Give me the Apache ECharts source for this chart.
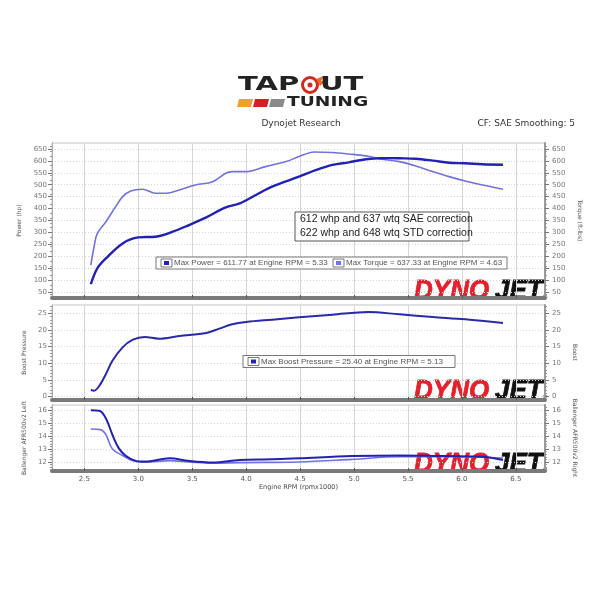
<!DOCTYPE html>
<html><head><meta charset="utf-8">
<script src="https://cdn.jsdelivr.net/npm/echarts@6/dist/echarts.min.js"></script>
<style>html,body{margin:0;padding:0;background:#fff}#c{width:600px;height:605px}</style>
</head><body><div id="c"></div>
<script>
// ---- data ----
const rpmTicks = [2.5, 3.0, 3.5, 4.0, 4.5, 5.0, 5.5, 6.0, 6.5];
const powerTicks = [50, 100, 150, 200, 250, 300, 350, 400, 450, 500, 550, 600, 650];
const boostTicks = [0, 5, 10, 15, 20, 25];
const afrTicks = [12, 13, 14, 15, 16];

const powerRpm = [2.56,2.62,2.70,2.855,3.0,3.16,3.32,3.47,3.63,3.81,3.94,4.09,4.24,4.49,4.65,4.80,4.95,5.11,5.23,5.33,5.42,5.57,5.73,5.88,6.03,6.19,6.38];
const powerHp  = [83,149,191,254,279,282,303,331,363,405,422,457,492,534,562,583,594,607,611,611.77,611,609,601,592,590,586,584];

const torqueRpm = [2.56,2.59,2.62,2.70,2.79,2.855,2.93,3.04,3.16,3.26,3.38,3.53,3.69,3.81,3.87,4.0,4.18,4.37,4.49,4.63,4.80,4.95,5.11,5.26,5.42,5.57,5.73,5.88,6.03,6.19,6.38];
const torqueFt  = [163,240,296,345,408,450,474,481,464,464,478,499,513,548,555,555,576,597,618,637.33,635,629,621,607,597,579,555,534,516,499,481];

const boostRpm = [2.56,2.59,2.64,2.70,2.76,2.855,2.95,3.06,3.19,3.38,3.63,3.75,3.87,4.0,4.24,4.49,4.80,5.13,5.42,5.73,6.03,6.38];
const boostPsi = [2.0,1.8,3.3,6.8,10.8,14.8,17.1,17.9,17.4,18.2,19.1,20.4,21.7,22.4,23.1,23.8,24.6,25.4,24.7,23.9,23.2,22.1];

const afrLeftRpm = [2.56,2.64,2.70,2.76,2.82,2.88,2.97,3.06,3.29,3.47,3.69,3.94,4.24,4.49,4.98,5.42,5.88,6.19,6.38];
const afrLeft    = [16.0,15.95,15.36,14.1,13.05,12.5,12.1,12.03,12.28,12.07,11.95,12.15,12.2,12.28,12.45,12.5,12.45,12.4,12.15];
const afrRightRpm = [2.56,2.65,2.70,2.76,2.855,2.95,3.06,3.29,3.47,3.69,3.94,4.49,4.98,5.42,5.88,6.38];
const afrRight    = [14.54,14.5,14.1,13.0,12.5,12.1,11.98,12.1,12.0,11.9,11.95,12.0,12.2,12.4,12.4,12.3];

const maxPower = {value: 611.77, rpm: 5.33};
const maxTorque = {value: 637.33, rpm: 4.63};
const maxBoost = {value: 25.40, rpm: 5.13};
const noteLines = ['612 whp and 637 wtq SAE correction', '622 whp and 648 wtq STD correction'];

// ---- chart ----
const FONT = 'DejaVu Sans';
const DARK = '#2222b0';
const LIGHT = '#7272dc';
const zip = (a, b) => a.map((v, i) => [v, b[i]]);

const gridDefs = [
  {top: 143, height: 155},
  {top: 305, height: 95},
  {top: 405, height: 66}
];
const grids = gridDefs.map(g => ({left: 52, width: 493, top: g.top, height: g.height, show: true, borderColor: '#c4c4c4', borderWidth: 1, outerBoundsMode: 'none'}));

const xAxes = [0, 1, 2].map(i => ({
  type: 'value', gridIndex: i, min: 2.2, max: 6.77, position: 'bottom',
  axisLine: {show: true, onZero: false, lineStyle: {color: '#7a7a7a', width: 4}},
  axisTick: {show: true, customValues: rpmTicks, length: 3, inside: true, lineStyle: {color: '#555'}},
  axisLabel: {show: i === 2, customValues: rpmTicks, formatter: v => v.toFixed(1), fontSize: 7, color: '#555', fontFamily: FONT, margin: 5},
  splitLine: {show: true, lineStyle: {color: '#d6d6d6', width: 1}},
  name: i === 2 ? 'Engine RPM (rpmx1000)' : '', nameLocation: 'middle', nameGap: 13,
  nameTextStyle: {fontSize: 6.5, color: '#444', fontFamily: FONT}
}));

function yPair(gi, min, max, ticks, leftName, rightName) {
  const base = {
    type: 'value', gridIndex: gi, min: min, max: max,
    axisTick: {show: true, customValues: ticks, length: 4, lineStyle: {color: '#777'}},
    minorTick: {show: true, splitNumber: 5, length: 2, lineStyle: {color: '#999'}},
    axisLabel: {customValues: ticks, fontSize: 7, color: '#777', fontFamily: FONT, margin: 5},
    nameLocation: 'middle', nameRotate: 90,
    nameTextStyle: {fontSize: 6, color: '#555', fontFamily: FONT}
  };
  return [
    Object.assign({}, base, {position: 'left', name: leftName, nameGap: 19,
      axisLine: {show: true, lineStyle: {color: '#aaa', width: 1}},
      splitLine: {show: true, lineStyle: {color: '#d6d6d6', type: [1, 2]}}}),
    Object.assign({}, base, {position: 'right', name: rightName, nameGap: 26, nameRotate: -90,
      axisLine: {show: true, lineStyle: {color: '#999', width: 2}},
      axisLabel: Object.assign({}, base.axisLabel, {margin: 7}),
      splitLine: {show: false}})
  ];
}
const yAxes = [].concat(
  yPair(0, 25, 675, powerTicks, 'Power (hp)', 'Torque (ft-lbs)'),
  yPair(1, -1, 27.5, boostTicks, 'Boost Pressure', 'Boost'),
  yPair(2, 11.3, 16.4, afrTicks, 'Ballenger AFR500v2 Left', 'Ballenger AFR500v2 Right')
);

const line = (name, xi, yi, data, color, width) => ({
  name, type: 'line', xAxisIndex: xi, yAxisIndex: yi, data, smooth: 0.35, showSymbol: false,
  lineStyle: {color, width}, itemStyle: {color}, z: 3, silent: true
});

const series = [
  line('Torque', 0, 1, zip(torqueRpm, torqueFt), LIGHT, 1.6),
  line('Power', 0, 0, zip(powerRpm, powerHp), DARK, 2.4),
  line('Boost', 1, 2, zip(boostRpm, boostPsi), '#2a2aa8', 2),
  line('AFR Right', 2, 5, zip(afrRightRpm, afrRight), LIGHT, 1.6),
  line('AFR Left', 2, 4, zip(afrLeftRpm, afrLeft), DARK, 2)
];

function dynojet(y) {
  const f = 'italic bold 28px "Liberation Sans"';
  return {
    type: 'group', x: 414, y: y, z: 10,
    children: [
      {type: 'text', x: 0, y: 0, scaleX: 0.93, style: {text: 'DYNO', font: f, fill: '#e3202c', textVerticalAlign: 'top', stroke: '#e3202c', lineWidth: 0.8}},
      {type: 'text', x: 81, y: 0, scaleX: 0.93, style: {text: 'JET', font: f, fill: '#111', textVerticalAlign: 'top', stroke: '#111', lineWidth: 0.8}},
      {type: 'text', x: 128, y: 17, style: {text: '®', font: '6px "DejaVu Sans"', fill: '#111', textVerticalAlign: 'top'}}
    ]
  };
}
function legendItem(x, y, color, text) {
  return [
    {type: 'rect', shape: {x: x, y: y, width: 11, height: 8}, style: {fill: '#fff', stroke: '#556', lineWidth: 0.8}, z: 11},
    {type: 'rect', shape: {x: x + 3, y: y + 2, width: 5, height: 4}, style: {fill: color}, z: 11},
    {type: 'text', x: x + 13, y: y + 4, style: {text: text, font: '8px "Liberation Sans"', fill: '#555', textVerticalAlign: 'middle'}, z: 11}
  ];
}

const graphic = [].concat(
  [
    // TAPOUT TUNING logo
    {type: 'text', x: 238, y: 85, scaleX: 1.45, style: {text: 'TAP', font: '900 20px "DejaVu Sans"', fill: '#222', textVerticalAlign: 'middle'}},
    {type: 'circle', shape: {cx: 310, cy: 85, r: 7.5}, style: {fill: '#fff', stroke: '#d42a1e', lineWidth: 3}},
    {type: 'circle', shape: {cx: 310, cy: 85, r: 2.5}, style: {fill: '#d42a1e'}},
    {type: 'polygon', shape: {points: [[316, 79], [324, 76], [321, 81], [327, 80], [320, 86]]}, style: {fill: '#ef6a22'}},
    {type: 'text', x: 320, y: 85, scaleX: 1.45, style: {text: 'UT', font: '900 20px "DejaVu Sans"', fill: '#222', textVerticalAlign: 'middle'}},
    {type: 'polygon', shape: {points: [[239, 99], [253, 99], [251, 107], [237, 107]]}, style: {fill: '#f0a030'}},
    {type: 'polygon', shape: {points: [[255, 99], [269, 99], [267, 107], [253, 107]]}, style: {fill: '#d42020'}},
    {type: 'polygon', shape: {points: [[271, 99], [285, 99], [283, 107], [269, 107]]}, style: {fill: '#8a8a8a'}},
    {type: 'text', x: 287, y: 102.5, scaleX: 1.33, style: {text: 'TUNING', font: '900 14px "DejaVu Sans"', fill: '#222', textVerticalAlign: 'middle'}},
    {type: 'text', x: 301, y: 124, style: {text: 'Dynojet Research', font: '9px "DejaVu Sans"', fill: '#333', textAlign: 'center', textVerticalAlign: 'middle'}},
    {type: 'text', x: 575, y: 124, style: {text: 'CF: SAE Smoothing: 5', font: '9px "DejaVu Sans"', fill: '#333', textAlign: 'right', textVerticalAlign: 'middle'}},
    // note box
    {type: 'rect', z: 11, shape: {x: 295, y: 212, width: 174, height: 29}, style: {fill: '#fff', stroke: '#555', lineWidth: 1}},
    {type: 'text', z: 12, x: 300, y: 219.5, style: {text: noteLines[0], font: '10.5px "Liberation Sans"', fill: '#222', textVerticalAlign: 'middle'}},
    {type: 'text', z: 12, x: 300, y: 233.5, style: {text: noteLines[1], font: '10.5px "Liberation Sans"', fill: '#222', textVerticalAlign: 'middle'}},
    // legend boxes
    {type: 'rect', z: 10, shape: {x: 156, y: 257, width: 351, height: 12}, style: {fill: '#fff', stroke: '#777', lineWidth: 1}},
    {type: 'rect', z: 10, shape: {x: 243, y: 355.5, width: 212, height: 12}, style: {fill: '#fff', stroke: '#777', lineWidth: 1}}
  ],
  legendItem(161, 259, DARK, 'Max Power = ' + maxPower.value.toFixed(2) + ' at Engine RPM = ' + maxPower.rpm.toFixed(2)),
  legendItem(333, 259, LIGHT, 'Max Torque = ' + maxTorque.value.toFixed(2) + ' at Engine RPM = ' + maxTorque.rpm.toFixed(2)),
  legendItem(248, 357.5, DARK, 'Max Boost Pressure = ' + maxBoost.value.toFixed(2) + ' at Engine RPM = ' + maxBoost.rpm.toFixed(2)),
  [dynojet(277), dynojet(377), dynojet(450)]
);

const chart = echarts.init(document.getElementById('c'), null, {renderer: 'canvas'});
chart.setOption({
  backgroundColor: '#fff',
  animation: false,
  grid: grids,
  xAxis: xAxes,
  yAxis: yAxes,
  series: series,
  graphic: graphic
});
</script>
</body></html>
